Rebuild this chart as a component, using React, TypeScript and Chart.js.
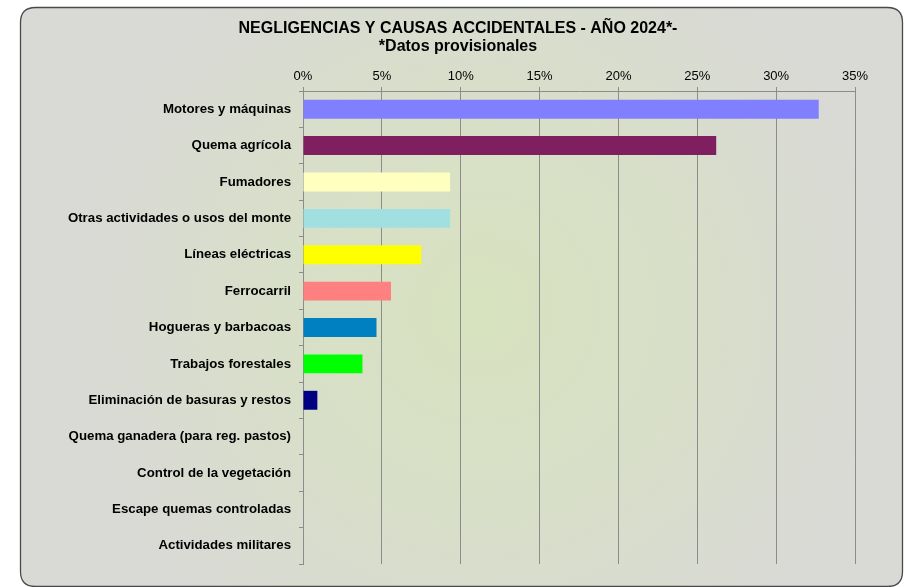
import React, { useEffect, useRef } from "react";
import { Chart, registerables } from "chart.js";

Chart.register(...registerables);

const TITLE_LINES = ["NEGLIGENCIAS Y CAUSAS ACCIDENTALES - AÑO 2024*-", "*Datos provisionales"];

const CATEGORIES = [
  "Motores y máquinas",
  "Quema agrícola",
  "Fumadores",
  "Otras actividades o usos del monte",
  "Líneas eléctricas",
  "Ferrocarril",
  "Hogueras y barbacoas",
  "Trabajos forestales",
  "Eliminación de basuras y restos",
  "Quema ganadera (para reg. pastos)",
  "Control de la vegetación",
  "Escape quemas controladas",
  "Actividades militares",
];

const VALUES = [32.7, 26.2, 9.33, 9.33, 7.5, 5.58, 4.66, 3.77, 0.91, 0, 0, 0, 0];

const BAR_COLORS = [
  "#8080FF",
  "#7F1F5F",
  "#FFFFC0",
  "#A0E0E0",
  "#FFFF00",
  "#FF8080",
  "#0080C0",
  "#00FF00",
  "#000080",
  "#808080",
  "#808080",
  "#808080",
  "#808080",
];

const X_MIN = 0;
const X_MAX = 35;
const X_STEP = 5;

const FONT = "'Liberation Sans', Arial, Helvetica, sans-serif";

const framePlugin = {
  id: "frame",
  beforeDraw(chart: any) {
    const ctx = chart.ctx as CanvasRenderingContext2D;
    const x = 20.5, y = 7.5, w = 882, h = 579, r = 15;
    ctx.save();
    ctx.beginPath();
    ctx.moveTo(x + r, y);
    ctx.lineTo(x + w - r, y);
    ctx.quadraticCurveTo(x + w, y, x + w, y + r);
    ctx.lineTo(x + w, y + h - r);
    ctx.quadraticCurveTo(x + w, y + h, x + w - r, y + h);
    ctx.lineTo(x + r, y + h);
    ctx.quadraticCurveTo(x, y + h, x, y + h - r);
    ctx.lineTo(x, y + r);
    ctx.quadraticCurveTo(x, y, x + r, y);
    ctx.closePath();
    const g = ctx.createRadialGradient(480, 310, 10, 480, 310, 420);
    g.addColorStop(0, "#d7e2bf");
    g.addColorStop(0.45, "#d8dfc8");
    g.addColorStop(1, "#d9d9d6");
    ctx.fillStyle = g;
    ctx.fill();
    ctx.lineWidth = 1.3;
    ctx.strokeStyle = "#4a4a4a";
    ctx.stroke();
    ctx.restore();
  },
};

export default function App() {
  const ref = useRef<HTMLCanvasElement | null>(null);

  useEffect(() => {
    if (!ref.current) return;
    const chart = new Chart(ref.current, {
      type: "bar",
      data: {
        labels: CATEGORIES,
        datasets: [
          {
            data: VALUES,
            backgroundColor: BAR_COLORS,
            borderWidth: 0,
            barPercentage: 0.52,
            categoryPercentage: 1,
          },
        ],
      },
      options: {
        indexAxis: "y",
        animation: false,
        responsive: false,
        maintainAspectRatio: false,
        layout: { padding: { top: 20, left: 61, right: 50, bottom: 23 } },
        plugins: {
          legend: { display: false },
          tooltip: { enabled: false },
          title: {
            display: true,
            text: TITLE_LINES,
            color: "#000",
            font: { family: FONT, size: 16, weight: "bold", lineHeight: 1.125 },
            padding: { top: 0, bottom: 0 },
          },
        },
        scales: {
          x: {
            position: "top",
            min: X_MIN,
            max: X_MAX,
            afterFit: (s: any) => {
              s.height = 35;
            },
            ticks: {
              stepSize: X_STEP,
              padding: 3,
              color: "#000",
              font: { family: FONT, size: 13 },
              callback: (v: any) => v + "%",
            },
            grid: { color: "#8c8c8c", lineWidth: 1, tickLength: 4, drawTicks: true },
            border: { display: true, color: "#8c8c8c" },
          },
          y: {
            afterFit: (s: any) => {
              s.width = 242;
            },
            ticks: {
              padding: 8,
              color: "#000",
              font: { family: FONT, size: 13.25, weight: "bold" },
            },
            grid: {
              display: true,
              drawOnChartArea: false,
              drawTicks: true,
              tickLength: 4,
              offset: true,
              color: "#8c8c8c",
            },
            border: { display: true, color: "#8c8c8c" },
          },
        },
      },
      plugins: [framePlugin],
    });
    return () => chart.destroy();
  }, []);

  return (
    <div style={{ position: "fixed", left: 0, top: 0, width: 905, height: 587, background: "#fff" }}>
      <canvas ref={ref} width={905} height={587} style={{ display: "block" }} />
    </div>
  );
}
